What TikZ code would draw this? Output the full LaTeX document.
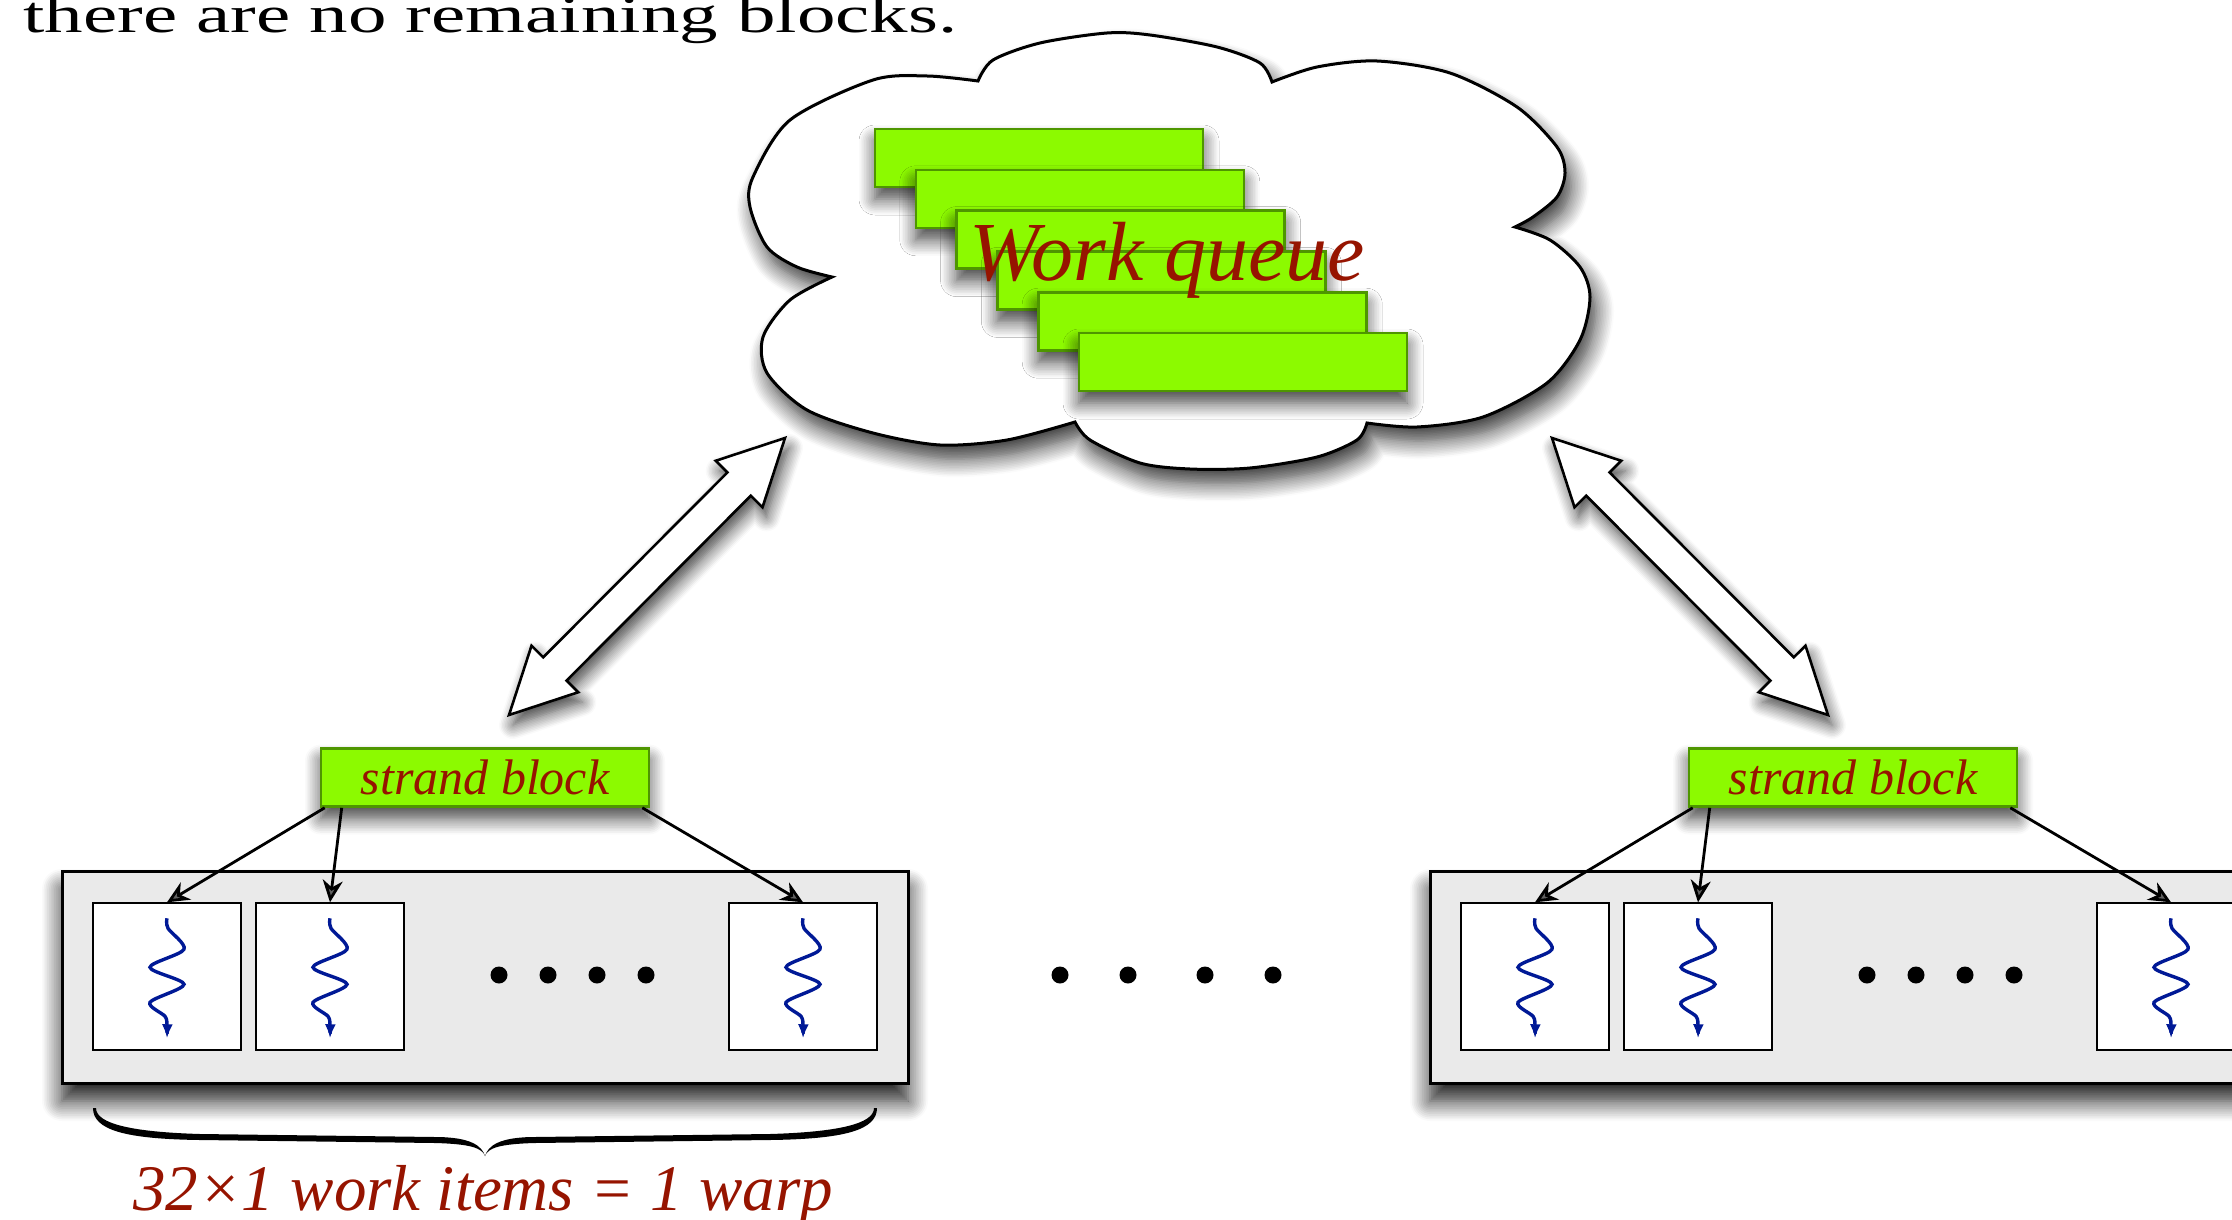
\documentclass[tikz,border=0pt]{standalone}
\usepackage{graphicx}
\usepackage{fontspec}
\setmainfont{Liberation Serif}
\usetikzlibrary{calc,shadows.blur,arrows.meta}
\definecolor{lime}{RGB}{140,250,0}
\definecolor{limeline}{RGB}{78,150,0}
\definecolor{dred}{RGB}{150,20,0}
\definecolor{boxgray}{RGB}{234,234,234}
\definecolor{wblue}{RGB}{0,25,150}
\newcommand\fatarrow[2]{%
  \draw[fatarrowstyle] (#2) -- ($(#2)!36.45pt!26.9:(#1)$) -- ($(#2)!33.53pt!14.24:(#1)$)
    -- ($(#1)!33.53pt!-14.24:(#2)$) -- ($(#1)!36.45pt!-26.9:(#2)$) -- (#1)
    -- ($(#1)!36.45pt!26.9:(#2)$) -- ($(#1)!33.53pt!14.24:(#2)$)
    -- ($(#2)!33.53pt!-14.24:(#1)$) -- ($(#2)!36.45pt!-26.9:(#1)$) -- cycle;}
\begin{document}
\begin{tikzpicture}[x=0.5pt,y=-0.5pt,
  bar/.style={draw=limeline, fill=lime, line width=1.3pt, minimum width=164pt,
    minimum height=29pt, inner sep=0pt,
    blur shadow={shadow xshift=0pt,shadow yshift=-6pt,shadow blur radius=8pt,
      shadow blur steps=10,shadow opacity=75}},
  strand/.style={bar, text=dred, font=\fontsize{25pt}{30pt}\selectfont\itshape},
  warp/.style={draw=black, fill=boxgray, line width=1.5pt, minimum width=423pt,
    minimum height=106pt, inner sep=0pt,
    blur shadow={shadow xshift=0pt,shadow yshift=-9pt,shadow blur radius=10pt,
      shadow blur steps=12,shadow opacity=90}},
  cell/.style={draw=black, fill=white, line width=0.7pt, minimum width=74pt,
    minimum height=73.5pt, inner sep=0pt},
  conn/.style={line width=1.4pt, -{Stealth[length=11pt,width=10pt,inset=3.5pt]}},
  wave/.style={wblue, line width=1.7pt, -{Latex[length=7pt,width=5.5pt]}},
  dot/.style={circle, fill=black, inner sep=0pt, minimum size=8.5pt},
  fatarrowstyle/.style={draw=black, fill=white, line width=1.3pt, line join=miter,
    blur shadow={shadow xshift=2pt,shadow yshift=-5pt,shadow blur radius=7pt,
      shadow blur steps=10,shadow opacity=75}},
  thread/.pic={\draw[wave] plot[smooth] coordinates
     {(0,0) (1,10) (17,31) (-17,49) (17,66) (-17,84) (-2,98) (0,107) (0,120)};}
]
\useasboundingbox (0,0) rectangle (2232,1220);
\clip (0,0) rectangle (2232,1220);

% top text
\node[anchor=base west, inner sep=0pt, font=\fontsize{26pt}{30pt}\selectfont] (toptext) at (23,33)
  {\scalebox{1.48}[1]{there are no remaining blocks.}};

% cloud
\draw[line width=1.5pt, fill=white,
  blur shadow={shadow xshift=3pt,shadow yshift=-7pt,shadow blur radius=9pt,
    shadow blur steps=12,shadow opacity=80}]
  plot[smooth] coordinates {(978,81) (993,60) (1040,43) (1107,33) (1150,35) (1217,47) (1260,63) (1272,82)}
  -- plot[smooth] coordinates {(1272,82) (1317,67) (1377,61) (1450,73) (1517,107) (1557,147) (1565,173) (1557,197) (1533,217) (1515,227)}
  -- plot[smooth] coordinates {(1515,227) (1550,240) (1580,267) (1590,297) (1580,340) (1547,383) (1483,417) (1417,427) (1367,423)}
  -- plot[smooth] coordinates {(1367,423) (1357,440) (1317,457) (1250,468) (1190,469) (1140,463) (1090,440) (1075,422)}
  -- plot[smooth] coordinates {(1075,422) (1007,440) (940,445) (873,433) (807,410) (767,373) (763,337) (790,300) (832,277)}
  -- plot[smooth] coordinates {(832,277) (797,267) (767,247) (750,207) (753,177) (790,120) (873,80) (927,76) (978,81)}
  -- cycle;

% queue bars
\foreach \k in {0,...,5}{
  \node[bar] (q\k) at (1039+40.8*\k,158+40.8*\k) {};
}
\node[anchor=base, inner sep=0pt, text=dred, font=\fontsize{42pt}{50pt}\selectfont\itshape] (wq) at (1167,280) {Work queue};

% connectors between queue and strand blocks
\coordinate (qL) at (785,438);
\coordinate (tL) at (509,715);
\coordinate (qR) at (1552,438);
\coordinate (tR) at (1828,715);
\fatarrow{tL}{qL}
\fatarrow{tR}{qR}

% warps
\foreach \s/\dx in {L/0,R/1368}{
  \node[strand] (sb\s) at (485+\dx,777.5) {strand block};
  \node[warp] (wb\s) at (485+\dx,977) {};
  \node[cell] (ca\s) at (167+\dx,976.5) {};
  \node[cell] (cb\s) at (330+\dx,976.5) {};
  \node[cell] (cc\s) at (803+\dx,976.5) {};
  \pic at ($(ca\s.north)+(0,16)$) {thread};
  \pic at ($(cb\s.north)+(0,16)$) {thread};
  \pic at ($(cc\s.north)+(0,16)$) {thread};
  \node[dot] (da\s) at (499+\dx,975) {};
  \node[dot] (db\s) at (548+\dx,975) {};
  \node[dot] (dc\s) at (597+\dx,975) {};
  \node[dot] (dd\s) at (646+\dx,975) {};
  \draw[conn] ($(sb\s.south west)+(5,0)$) -- (ca\s.north);
  \draw[conn] ($(sb\s.south west)+(22,0)$) -- (cb\s.north);
  \draw[conn] ($(sb\s.south east)+(-8,0)$) -- (cc\s.north);
}

% middle dots
\node[dot] (m1) at (1060,975) {};
\node[dot] (m2) at (1128,975) {};
\node[dot] (m3) at (1205,975) {};
\node[dot] (m4) at (1273,975) {};

% brace
\begin{scope}[shift={(485,1156)}]
  \fill (-392,-48) .. controls (-392,-26) and (-360,-17) .. (-285,-16) -- (-50,-13)
    .. controls (-14,-12) and (-3,-8) .. (0,0) .. controls (-3,-10) and (-14,-19) .. (-50,-19)
    -- (-285,-22) .. controls (-352,-24) and (-389,-32) .. (-389,-48) -- cycle;
  \fill[xscale=-1] (-392,-48) .. controls (-392,-26) and (-360,-17) .. (-285,-16) -- (-50,-13)
    .. controls (-14,-12) and (-3,-8) .. (0,0) .. controls (-3,-10) and (-14,-19) .. (-50,-19)
    -- (-285,-22) .. controls (-352,-24) and (-389,-32) .. (-389,-48) -- cycle;
\end{scope}
\node[anchor=base, inner sep=0pt, text=dred, font=\fontsize{32.5pt}{39pt}\selectfont\itshape] (lbl) at (483,1210) {32×1 work items = 1 warp};
\end{tikzpicture}
\end{document}
